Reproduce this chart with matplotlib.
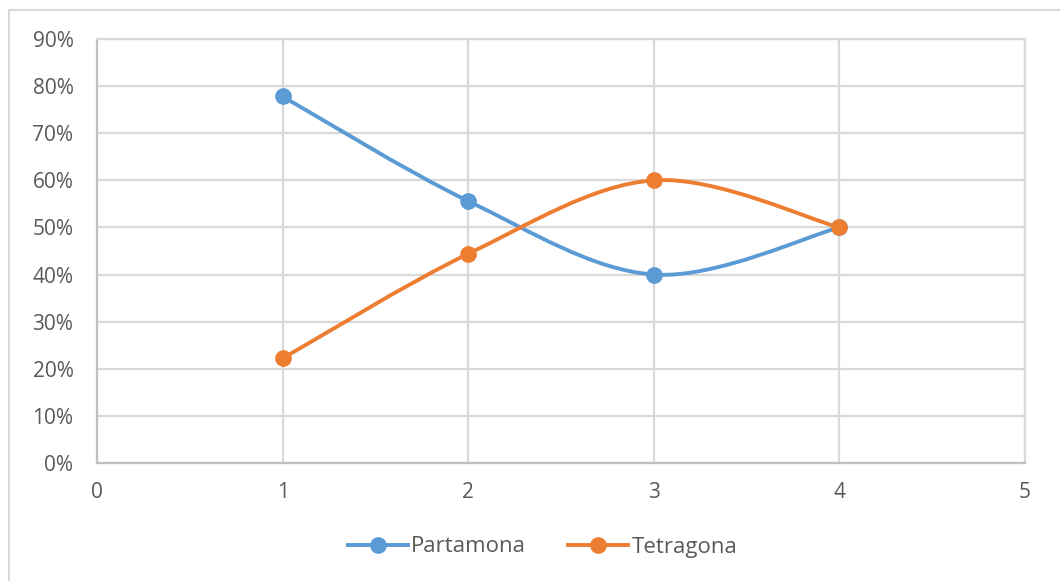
import matplotlib.pyplot as plt
import numpy as np
from matplotlib.path import Path
from matplotlib.patches import PathPatch, Rectangle
from matplotlib.lines import Line2D
from matplotlib.ticker import PercentFormatter

x_vals = [1, 2, 3, 4]
partamona = [0.778, 0.556, 0.40, 0.50]
tetragona = [0.222, 0.444, 0.60, 0.50]

x_ticks = [0, 1, 2, 3, 4, 5]
y_ticks = [0, 0.1, 0.2, 0.3, 0.4, 0.5, 0.6, 0.7, 0.8, 0.9]

BLUE = "#5B9BD5"
ORANGE = "#ED7D31"
GRID = "#d9d9d9"
TEXT = "#595959"

plt.rcParams['font.family'] = ['Open Sans', 'DejaVu Sans']


def smooth_path(xs, ys):
    """Bezier path through the points, Excel-like smoothing"""
    pts = np.column_stack([xs, ys]).astype(float)
    n = len(pts)
    verts = [pts[0]]
    codes = [Path.MOVETO]
    for i in range(n - 1):
        p0 = pts[max(i - 1, 0)]
        p1 = pts[i]
        p2 = pts[i + 1]
        p3 = pts[min(i + 2, n - 1)]
        c1 = p1 + (p2 - p0) / 6.0
        c2 = p2 - (p3 - p1) / 6.0
        verts += [c1, c2, p2]
        codes += [Path.CURVE4] * 3
    return Path(verts, codes)


fig = plt.figure(figsize=(10.6, 5.81), dpi=100)
ax = fig.add_axes([97 / 1060, 1 - 463 / 581, (1025 - 97) / 1060, (463 - 39) / 581])

# chart frame
fig.patches.append(Rectangle((9 / 1060, -0.1), 1.2, 1 - 10 / 581 + 0.1, transform=fig.transFigure,
                             fill=False, edgecolor=GRID, linewidth=1.5))

for ys, color in [(partamona, BLUE), (tetragona, ORANGE)]:
    ax.add_patch(PathPatch(smooth_path(x_vals, ys), facecolor="none", edgecolor=color,
                           linewidth=2.8, capstyle="round", zorder=3))
    ax.plot(x_vals, ys, linestyle="none", marker="o", markersize=11, color=color, zorder=4)

ax.set_xlim(0, 5)
ax.set_ylim(0, 0.9)
ax.set_xticks(x_ticks)
ax.set_yticks(y_ticks)
ax.yaxis.set_major_formatter(PercentFormatter(1.0, decimals=0))
ax.grid(True, color=GRID, linewidth=1.6)
ax.set_axisbelow(True)
for side in ["top", "right"]:
    ax.spines[side].set_color(GRID)
    ax.spines[side].set_linewidth(1.6)
for side in ["left", "bottom"]:
    ax.spines[side].set_color("#bfbfbf")
    ax.spines[side].set_linewidth(1.6)
ax.tick_params(length=0, labelsize=15, colors=TEXT)
ax.tick_params(axis="y", pad=17)
ax.tick_params(axis="x", pad=14)

handles = [Line2D([], [], color=BLUE, linewidth=2.8, marker="o", markersize=11),
           Line2D([], [], color=ORANGE, linewidth=2.8, marker="o", markersize=11)]
fig.legend(handles, ["Partamona", "Tetragona"], loc="center", bbox_to_anchor=(0.512, 1 - 547 / 581),
           ncol=2, frameon=False, fontsize=16, labelcolor=TEXT, handlelength=2.7,
           handletextpad=0.15, columnspacing=1.9)

fig.savefig("out.png", dpi=100)
